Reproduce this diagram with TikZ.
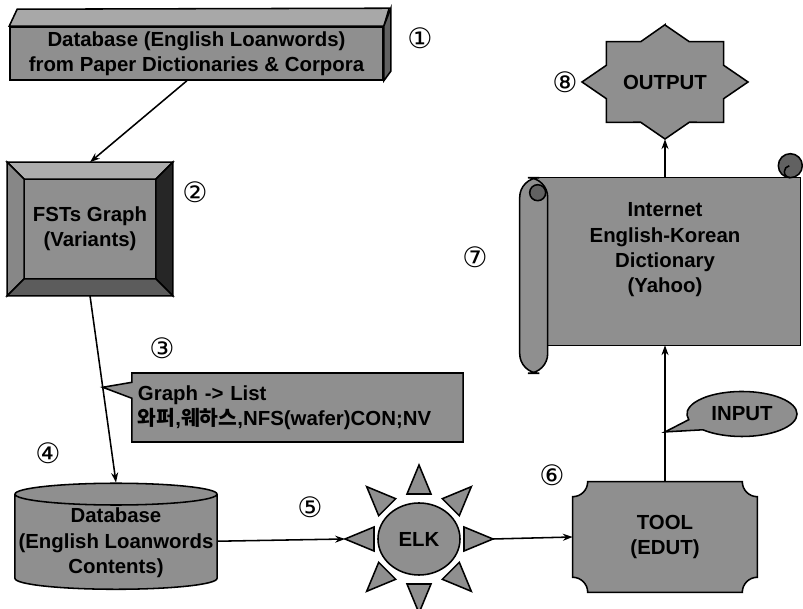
\documentclass[tikz,border=0pt]{standalone}
\usepackage{fontspec}
\setmainfont{Liberation Sans}
\newfontfamily\krfont{Noto Sans CJK KR}
\newfontfamily\numfont{DejaVu Sans}
\usetikzlibrary{shapes.geometric,shapes.callouts,calc,backgrounds,arrows.meta}
\tikzset{
  shapefill/.style={fill=black!44, draw=black, line width=1.1pt},
  lbl/.style={font=\fontsize{14.5}{18}\selectfont\bfseries, align=center},
  num/.style={font=\numfont\fontsize{20}{20}\selectfont},
  link/.style={line width=1.1pt, -{Stealth[length=7pt,width=5pt]}},
}
\begin{document}
\begin{tikzpicture}[x=0.025cm,y=0.025cm]
\useasboundingbox (0,0) rectangle (803,609);

\node[lbl, shapefill, minimum width=9.325cm, minimum height=1.325cm, inner sep=0pt] (db1) at (196.5,555.5) {Database (English Loanwords)\\from Paper Dictionaries \& Corpora};
\filldraw[shapefill, fill=black!34] (db1.north west) -- ++(8,17) -- ++(372,1) -- (db1.north east) -- cycle;
\filldraw[shapefill, fill=black!62] (db1.north east) -- ++(7,18) -- ++(0,-63) -- (db1.south east) -- cycle;

\node[lbl, shapefill, minimum width=4.1cm, minimum height=3.3cm] (fst) at (90,380) {FSTs Graph\\(Variants)};
\filldraw[shapefill, fill=black!32] (fst.north west) -- (fst.north east) -- ++(-17,-17) -- ($(fst.north west)+(17,-17)$) -- cycle;
\filldraw[shapefill, fill=black!47] (fst.north west) -- ($(fst.north west)+(17,-17)$) -- ($(fst.south west)+(17,17)$) -- (fst.south west) -- cycle;
\filldraw[shapefill, fill=black!85] (fst.north east) -- ($(fst.north east)+(-17,-17)$) -- ($(fst.south east)+(-17,17)$) -- (fst.south east) -- cycle;
\filldraw[shapefill, fill=black!64] (fst.south west) -- ($(fst.south west)+(17,17)$) -- ($(fst.south east)+(-17,17)$) -- (fst.south east) -- cycle;

\node[lbl, shapefill, cylinder, shape border rotate=90, aspect=0.11, minimum width=5.05cm, minimum height=2.65cm, inner sep=1pt] (cyl) at (116,66) {Database\\(English Loanwords\\Contents)};

\coordinate (lstip) at ($(fst.south)!0.49!(cyl.north)$);
\node[lbl, shapefill, rectangle callout, callout absolute pointer={(lstip)}, callout pointer width=0.4cm, align=left, text width=7.975cm, inner xsep=0.15cm, minimum height=1.725cm] (glist) at (297.5,201.5) {Graph -> List\\{\krfont 와퍼},{\krfont 웨하스},NFS(wafer)CON;NV};

\node[lbl, shapefill, ellipse, minimum width=2.05cm, minimum height=1.8cm, inner sep=0pt] (elk) at (419,70) {ELK};
\foreach \a in {0,45,...,315}
  \filldraw[shapefill] ($(elk.center)+(\a:74)$) coordinate (tip\a) -- ($(elk.center)+(\a:45)+(\a+90:12)$) -- ($(elk.center)+(\a:45)+(\a-90:12)$) -- cycle;

\node[lbl, minimum width=4.6cm, minimum height=2.75cm] (tool) at (665,72) {TOOL\\(EDUT)};
\node[minimum width=6.75cm, minimum height=4.175cm] (dict) at (665,347.5) {};
\node[lbl] (dicttxt) at (665,359) {Internet\\English-Korean\\Dictionary\\(Yahoo)};
\node[lbl, minimum width=4.15cm, minimum height=2.85cm] (out) at (665,527) {OUTPUT};

\begin{scope}[on background layer]
\filldraw[shapefill] ($(tool.north west)+(15,0)$) -- ($(tool.north east)+(-15,0)$) arc[start angle=180, end angle=270, radius=15]
  -- ($(tool.south east)+(0,15)$) arc[start angle=90, end angle=180, radius=15]
  -- ($(tool.south west)+(15,0)$) arc[start angle=0, end angle=90, radius=15]
  -- ($(tool.north west)+(0,-15)$) arc[start angle=270, end angle=360, radius=15] -- cycle;
\filldraw[shapefill] (dict.south west) ++(4,0) rectangle (dict.north east);
\filldraw[shapefill, fill=black!62] ($(dict.north east)+(-10,12)$) circle[radius=12];
\draw[line width=1.1pt] ($(dict.north east)+(-10,0)$) arc[start angle=270, end angle=100, radius=6];
\filldraw[shapefill, rounded corners=14] ($(dict.south west)+(18,-28)$) rectangle ($(dict.north west)+(-10,0)$);
\filldraw[shapefill, fill=black!62] ($(dict.north west)+(8,-15)$) circle[radius=8];
\filldraw[shapefill] (out.north) \foreach \a in {90,135,...,405}{
  -- ($(out.center)+({63.5*cos(\a+22.5)},{43.6*sin(\a+22.5)})$)
  -- ($(out.center)+({83*cos(\a+45)},{57*sin(\a+45)})$)} -- cycle;
\end{scope}

\coordinate (intip) at ($(tool.north)!0.365!(dict.south)$);
\node[lbl, shapefill, ellipse callout, callout absolute pointer={(intip)}, callout pointer arc=30, minimum width=2.75cm, minimum height=1.125cm, inner sep=0pt] (inp) at (742,195) {INPUT};

\draw[link] ([xshift=-0.24cm]db1.south) -- (fst.north);
\draw[link] (fst.south) -- (cyl.north);
\draw[link] (cyl) -- (tip180);
\draw[link] (tip0) -- (tool.west);
\draw[link] (tool.north) -- (dict.south);
\draw[link] (dict.north) -- (out.south);

\node[num] (n1) at (420,571) {①};
\node[num] (n2) at (195,417) {②};
\node[num] (n3) at (162,261) {③};
\node[num] (n4) at (48,156) {④};
\node[num] (n5) at (310,102) {⑤};
\node[num] (n6) at (552,134) {⑥};
\node[num] (n7) at (475,352) {⑦};
\node[num] (n8) at (565,527) {⑧};
\end{tikzpicture}
\end{document}
